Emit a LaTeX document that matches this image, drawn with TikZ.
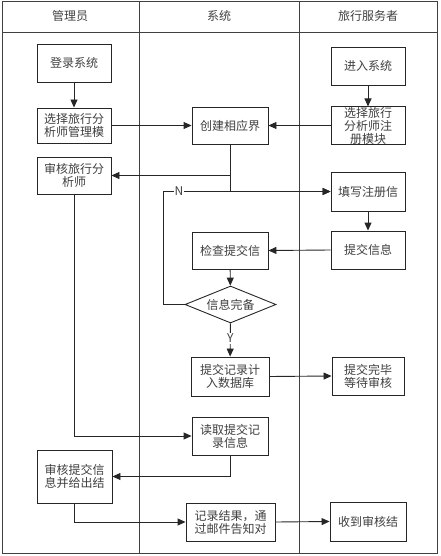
\documentclass[tikz,border=0pt]{standalone}
\usepackage{fontspec}
\setmainfont{Noto Sans CJK SC}
\usetikzlibrary{shapes.geometric,arrows.meta}
\begin{document}
\begin{tikzpicture}[x=1pt,y=-1pt,
  every node/.style={font=\fontsize{12}{13}\selectfont, text=black!75},
  box/.style={draw=black!85, line width=0.9pt, fill=white, rectangle, inner sep=0pt, align=center},
  dec/.style={draw=black!85, line width=0.9pt, fill=white, diamond, aspect=2.46, inner sep=0pt},
  lane/.style={draw=black!75, line width=0.9pt},
  conn/.style={draw=black!85, line width=0.9pt, -{Triangle[length=8pt,width=7pt]}},
  lbl/.style={fill=white, inner sep=1pt}]
\useasboundingbox (0,0) rectangle (440,556);
% swimlanes
\draw[lane] (2,1) rectangle (437,553);
\draw[lane] (2,32) -- (437,32);
\draw[lane] (139,1) -- (139,553);
\draw[lane] (299,1) -- (299,553);
\node (h1) at (70,16) {管理员};
\node (h2) at (219,16) {系统};
\node (h3) at (368,16) {旅行服务者};
% admin lane
\node[box, minimum width=74pt, minimum height=38pt] (a1) at (74,63) {登录系统};
\node[box, minimum width=74pt, minimum height=35pt] (a2) at (74,125.5) {选择旅行分\\析师管理模};
\node[box, minimum width=74pt, minimum height=37pt] (a3) at (74,175.5) {审核旅行分\\析师};
\node[box, minimum width=75pt, minimum height=53pt] (a4) at (74.5,476.5) {审核提交信\\息并给出结};
% system lane
\node[box, minimum width=76pt, minimum height=37pt] (s1) at (230,125.5) {创建相应界};
\node[box, minimum width=76pt, minimum height=37pt] (s2) at (230,250.5) {检查提交信};
\node[dec, minimum width=91pt, minimum height=37pt] (d) at (230.5,304.5) {信息完备};
\node[box, minimum width=78pt, minimum height=39pt] (s3) at (230,376.5) {提交记录计\\入数据库};
\node[box, minimum width=76pt, minimum height=38pt] (s4) at (230,436) {读取提交记\\录信息};
\node[box, minimum width=89pt, minimum height=38pt] (s5) at (230.5,522) {记录结果，通\\过邮件告知对};
% traveller lane
\node[box, minimum width=74pt, minimum height=38pt] (t1) at (368,66) {进入系统};
\node[box, minimum width=74pt, minimum height=35pt] (t2) at (368,125.5) {选择旅行\\分析师注\\册模块};
\node[box, minimum width=74pt, minimum height=39pt] (t3) at (368,191.5) {填写注册信};
\node[box, minimum width=74pt, minimum height=38pt] (t4) at (368,250) {提交信息};
\node[box, minimum width=72pt, minimum height=38pt] (t5) at (368,376) {提交完毕\\等待审核};
\node[box, minimum width=76pt, minimum height=39pt] (t6) at (368,521.5) {收到审核结};
\coordinate (nc) at (163,191.5);
% connectors
\draw[conn] (a1) -- (a2);
\draw[conn] (a2.east) -- (s1.west);
\draw[conn] (t1) -- (t2);
\draw[conn] (t2.west) -- (s1.east);
\draw[conn] (s1.south) |- (a3.east);
\draw[conn] (s1.south) |- (t3.west);
\draw[conn] (d.west) -| (nc) -- (t3.west);
\node[lbl] (nlab) at (179,191.5) {N};
\draw[conn] (t3) -- (t4);
\draw[conn] (t4.west) -- (s2.east);
\draw[conn] (s2) -- (d);
\draw[conn] (d) -- (s3) node[lbl, pos=0.45] (ylab) {Y};
\draw[conn] (s3.east) -- (t5.west);
\draw[conn] (a3.south) |- (s4.west);
\draw[conn] (s4.south) |- (a4.east);
\draw[conn] (a4.south) |- (s5.west);
\draw[conn] (s5.east) -- (t6.west);
\end{tikzpicture}
\end{document}
